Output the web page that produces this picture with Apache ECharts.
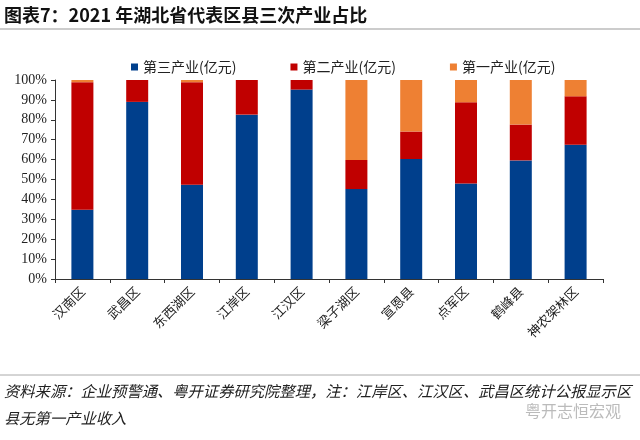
<!DOCTYPE html>
<html><head><meta charset="utf-8">
<script src="https://cdn.jsdelivr.net/npm/echarts@6/dist/echarts.min.js"></script>
<style>html,body{margin:0;padding:0;background:#fff;}#c{width:640px;height:440px;}</style>
</head><body><div id="c"></div>
<script>
var categories = ['汉南区','武昌区','东西湖区','江岸区','江汉区','梁子湖区','宣恩县','点军区','鹤峰县','神农架林区'];
var tertiary = [34.8, 89.0, 47.4, 82.6, 95.2, 45.2, 60.3, 48.0, 59.6, 67.5];
var secondary = [64.1, 11.0, 51.5, 17.4, 4.8, 14.6, 13.8, 40.8, 18.0, 24.3];
var primary = [1.1, 0, 1.1, 0, 0, 40.2, 25.9, 11.2, 22.4, 8.2];
var seriesNames = ['第三产业(亿元)','第二产业(亿元)','第一产业(亿元)'];
var yTicks = [0,10,20,30,40,50,60,70,80,90,100];

var chart = echarts.init(document.getElementById('c'));
var cjk = '"Noto Sans CJK SC", sans-serif';
function bar(name, data, color){
  return {name:name, type:'bar', stack:'total', data:data, barWidth:22,
    itemStyle:{color:color}};
}
chart.setOption({
  animation:false,
  backgroundColor:'#fff',
  legend:{
    top:55, left:126, itemGap:54, itemWidth:7, itemHeight:7, icon:'rect',
    textStyle:{fontFamily:cjk, fontSize:14, color:'#222'},
    data:seriesNames
  },
  grid:{left:55, right:37, top:80, bottom:161, containLabel:false},
  xAxis:{
    type:'category', data:categories,
    axisLine:{lineStyle:{color:'#333'}},
    axisTick:{show:true, alignWithLabel:false, length:4, lineStyle:{color:'#333'}},
    axisLabel:{rotate:45, fontFamily:cjk, fontSize:13, color:'#222', margin:10, interval:0}
  },
  yAxis:{
    type:'value', min:0, max:100, interval:10,
    axisLine:{show:true, lineStyle:{color:'#333'}},
    axisTick:{show:true, length:4, lineStyle:{color:'#333'}},
    splitLine:{show:false},
    axisLabel:{fontFamily:'"Liberation Serif", serif', fontSize:14, color:'#222', margin:8,
      formatter:function(v){return v+'%';}}
  },
  series:[
    bar(seriesNames[0], tertiary, '#003F8C'),
    bar(seriesNames[1], secondary, '#C00000'),
    bar(seriesNames[2], primary, '#EE8033')
  ],
  graphic:[
    {type:'text', left:4, top:6, style:{text:'图表7：2021 年湖北省代表区县三次产业占比', font:'bold 18px '+cjk, fill:'#111'}},
    {type:'line', shape:{x1:0,y1:29,x2:640,y2:29}, style:{stroke:'#999', lineWidth:1}},
    {type:'line', shape:{x1:0,y1:375,x2:640,y2:375}, style:{stroke:'#aaa', lineWidth:1}},
    {type:'text', left:4, top:384, style:{text:'资料来源：企业预警通、粤开证券研究院整理，注：江岸区、江汉区、武昌区统计公报显示区', font:'italic 15.3px '+cjk, fill:'#222'}},
    {type:'text', left:4, top:411, style:{text:'县无第一产业收入', font:'italic 15.3px '+cjk, fill:'#222'}},
    {type:'text', left:525, top:403, style:{text:'粤开志恒宏观', font:'16px '+cjk, fill:'#bbb'}}
  ]
});
</script></body></html>
